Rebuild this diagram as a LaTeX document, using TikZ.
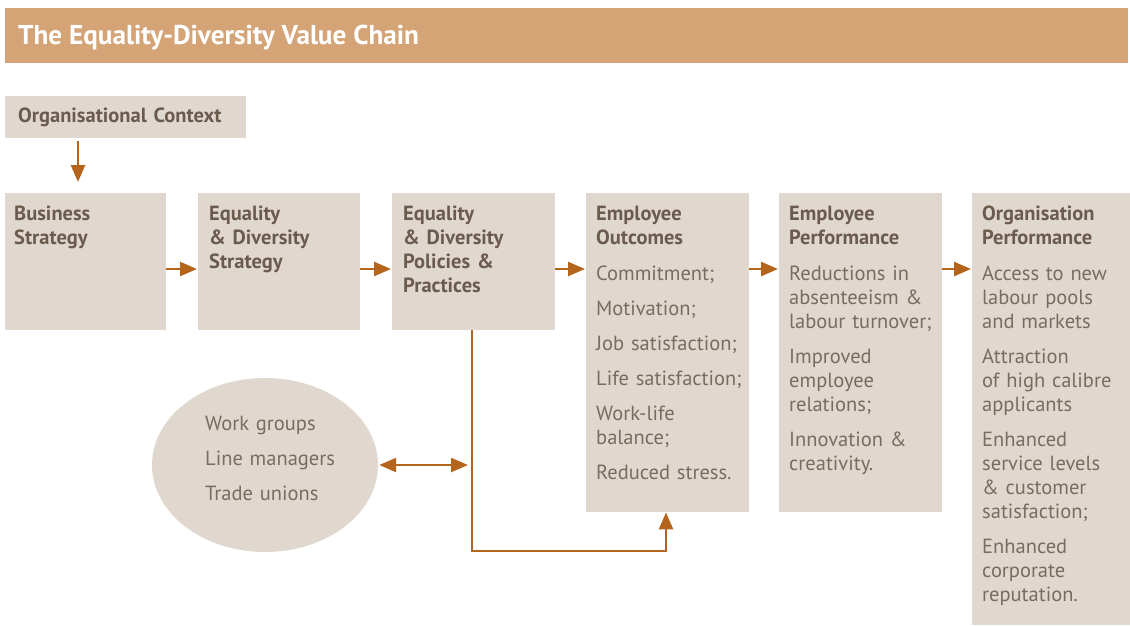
\documentclass[tikz,border=0pt]{standalone}
\usepackage{fontspec}
\setmainfont{PT Sans}
\usetikzlibrary{positioning}
\usetikzlibrary{arrows.meta}
\usetikzlibrary{shapes.geometric}
\definecolor{barcol}{HTML}{D4A477}
\definecolor{boxcol}{HTML}{E0D8CE}
\definecolor{headcol}{HTML}{6B5B4E}
\definecolor{txtcol}{HTML}{7A6B60}
\definecolor{arrcol}{HTML}{B5641C}
\tikzset{box/.style = {fill = boxcol, inner sep = 0, anchor = north west}}
\tikzset{lbl/.style = {anchor = base west, align = left, inner sep = 0, text width = 240pt, text = txtcol, font = \fontsize{20.5}{24}\selectfont}}
\tikzset{flow/.style = {draw = arrcol, line width = 2.5pt, -{Triangle[length = 17pt, width = 14pt]}}}
\newcommand{\hd}[1]{{\bfseries\color{headcol}#1}}

\begin{document}
\begin{tikzpicture}[x = 1pt, y = -1pt]
    \useasboundingbox (0, 0) rectangle (1130, 625);

    \node [box, fill = barcol, minimum width = 1123pt, minimum height = 55pt] (titlebar) at (5, 8) {};
    \node [anchor = base west, inner sep = 0, text = white, font = \fontsize{27.2}{30}\selectfont\bfseries] (title) at (18, 44) {The Equality-Diversity Value Chain};

    \node [box, minimum width = 241pt, minimum height = 42pt] (orgctx) at (5, 96) {};
    \node [lbl] (orgctxtxt) at (18, 122) {\hd{Organisational Context}};

    \node [box, minimum width = 161pt, minimum height = 137pt] (bustrat) at (5, 193) {};
    \node [box, minimum width = 162pt, minimum height = 137pt] (edstrat) at (198, 193) {};
    \node [box, minimum width = 163pt, minimum height = 137pt] (edpol) at (392, 193) {};
    \node [box, minimum width = 163pt, minimum height = 319pt] (empout) at (586, 193) {};
    \node [box, minimum width = 163pt, minimum height = 319pt] (empperf) at (779, 193) {};
    \node [box, minimum width = 158pt, minimum height = 432pt] (orgperf) at (972, 193) {};

    \node [lbl] (bustrattxt) at (14, 220) {\hd{Business\\Strategy}};
    \node [lbl] (edstrattxt) at (209, 220) {\hd{Equality\\\& Diversity\\Strategy}};
    \node [lbl] (edpoltxt) at (403, 220) {\hd{Equality\\\& Diversity\\Policies \&\\Practices}};
    \node [lbl] (empouttxt) at (596, 220) {\hd{Employee\\Outcomes}\\[12pt]
      Commitment;\\[11pt]
      Motivation;\\[11pt]
      Job satisfaction;\\[11pt]
      Life satisfaction;\\[11pt]
      Work-life\\balance;\\[11pt]
      Reduced stress.};
    \node [lbl] (empperftxt) at (789, 220) {\hd{Employee\\Performance}\\[12pt]
      Reductions in\\absenteeism \&\\labour turnover;\\[11pt]
      Improved\\employee\\relations;\\[11pt]
      Innovation \&\\creativity.};
    \node [lbl] (orgperftxt) at (982, 220) {\hd{Organisation\\Performance}\\[12pt]
      Access to new\\labour pools\\and markets\\[11pt]
      Attraction\\of high calibre\\applicants\\[11pt]
      Enhanced\\service levels\\\& customer\\satisfaction;\\[11pt]
      Enhanced\\corporate\\reputation.};

    \node [ellipse, fill = boxcol, inner sep = 0, minimum width = 226pt, minimum height = 174pt] (groups) at (265, 465) {};
    \node [lbl] (groupstxt) at (205, 430) {Work groups\\[11pt]Line managers\\[11pt]Trade unions};

    \draw [flow] ([xshift = 73pt, yshift = -3pt]orgctx.south west) -- ([xshift = 73pt, yshift = 11pt]bustrat.north west);
    \draw [flow] ([yshift = -76pt]bustrat.north east) -- ([yshift = -76pt, xshift = -1pt]edstrat.north west);
    \draw [flow] ([yshift = -76pt]edstrat.north east) -- ([yshift = -76pt, xshift = -1pt]edpol.north west);
    \draw [flow] ([yshift = -76pt]edpol.north east) -- ([yshift = -76pt, xshift = -1pt]empout.north west);
    \draw [flow] ([yshift = -76pt]empout.north east) -- ([yshift = -76pt, xshift = -1pt]empperf.north west);
    \draw [flow] ([yshift = -76pt]empperf.north east) -- ([yshift = -76pt, xshift = -1pt]orgperf.north west);

    \coordinate (loopturn) at (666, 551);
    \coordinate (linkend) at (468, 465);
    \draw [flow] ([xshift = 80pt]edpol.south west) |- (loopturn) -- (loopturn |- empout.south);
    \draw [flow, {Triangle[length = 17pt, width = 14pt]}-{Triangle[length = 17pt, width = 14pt]}] ([xshift = 1pt]groups.east) -- (linkend);
\end{tikzpicture}
\end{document}
